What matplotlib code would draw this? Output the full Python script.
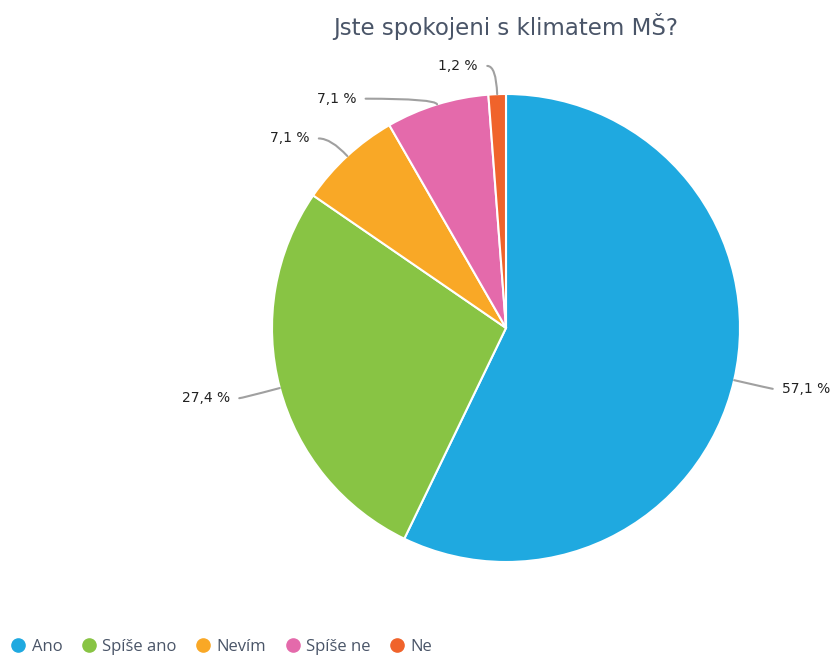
import numpy as np
import matplotlib
matplotlib.use("Agg")
import matplotlib.pyplot as plt
from matplotlib.lines import Line2D

categories = ["Ano", "Spíše ano", "Nevím", "Spíše ne", "Ne"]
percent = [57.1, 27.4, 7.1, 7.1, 1.2]
colors = ["#1fa9e0", "#88c444", "#f9a826", "#e46aab", "#f0632b"]
title = "Jste spokojeni s klimatem MŠ?"

# label layout: (x, y) of leader-line end in radius units
label_pos = [(1.14, -0.26), (-1.14, -0.30), (-0.80, 0.81), (-0.60, 0.98), (-0.08, 1.12)]

W, H = 839, 659
fig = plt.figure(figsize=(W / 100, H / 100), dpi=100)

# pie centre at (506, 328) px, radius 234 px
cx, cy, r = 506, 328, 234
lim = 1.3
half = r * lim
ax = fig.add_axes([(cx - half) / W, (H - cy - half) / H, 2 * half / W, 2 * half / H])

wedges, _ = ax.pie(percent, colors=colors, startangle=90, counterclock=False,
                   radius=1.0, wedgeprops=dict(edgecolor="white", linewidth=1.5))
ax.set_xlim(-lim, lim)
ax.set_ylim(-lim, lim)
ax.set_aspect("equal")
ax.axis("off")

for w, p, (lx, ly) in zip(wedges, percent, label_pos):
    mid = np.deg2rad((w.theta1 + w.theta2) / 2)
    ex, ey = np.cos(mid), np.sin(mid)
    txt = ("%.1f" % p).replace(".", ",") + " %"
    right = lx > 0
    ax.annotate("", xy=(ex, ey), xytext=(lx, ly),
                arrowprops=dict(arrowstyle="-", color="#a0a0a0", lw=1.5,
                                shrinkA=0, shrinkB=0,
                                connectionstyle="angle3,angleA=0,angleB=%.1f" % np.rad2deg(mid)),
                annotation_clip=False)
    ax.text(lx + (0.04 if right else -0.04), ly, txt, ha="left" if right else "right",
            va="center", fontsize=10, color="#222222", family="DejaVu Sans")

fig.text(cx / W, 1 - 27 / H, title, ha="center", va="center", fontsize=16.5,
         color="#4a5568", family="DejaVu Sans")

handles = [Line2D([], [], marker="o", linestyle="", markersize=9.5, color=c) for c in colors]
fig.legend(handles, categories, loc="center left", bbox_to_anchor=(-0.008, 1 - 647 / H), ncol=5,
           frameon=False, handletextpad=0.2, columnspacing=1.0, handlelength=1.2,
           prop=dict(family="Open Sans", size=12), labelcolor="#4a5568")

fig.savefig("out.png", dpi=100)
